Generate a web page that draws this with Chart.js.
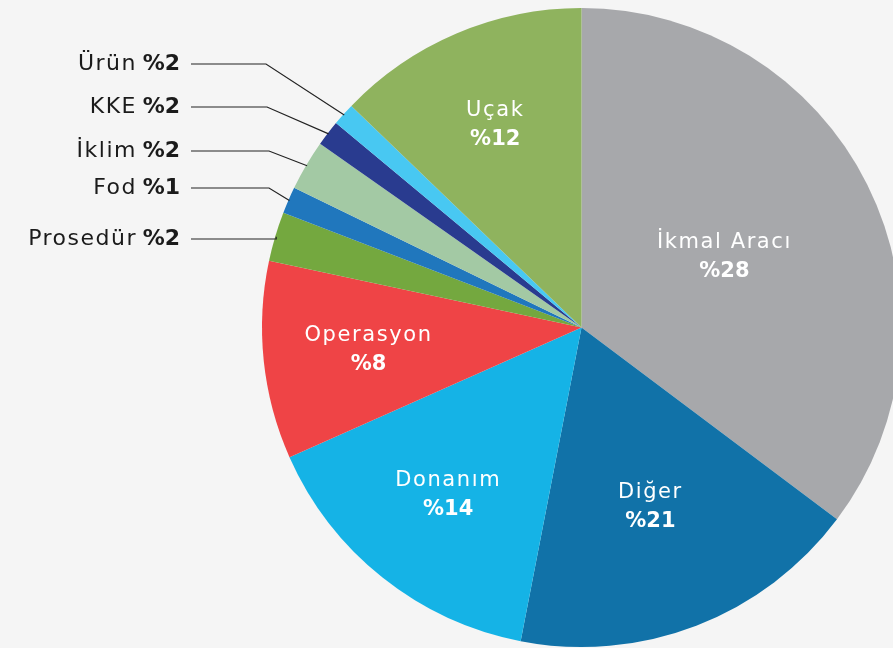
<!DOCTYPE html>
<html>
<head>
<meta charset="utf-8">
<script src="https://cdn.jsdelivr.net/npm/chart.js@4.4.1/dist/chart.umd.min.js"></script>
<style>
  html, body { margin: 0; padding: 0; background: #f5f5f5; overflow: hidden; width: 893px; height: 648px; }
  #wrap { position: absolute; left: 0; top: 0; width: 1000px; height: 648px; }
</style>
</head>
<body>
<div id="wrap"><canvas id="c" width="1000" height="648"></canvas></div>
<script>
// ---- data ----
const categories = ['İkmal Aracı', 'Diğer', 'Donanım', 'Operasyon', 'Prosedür', 'Fod', 'İklim', 'KKE', 'Ürün', 'Uçak'];
const sliceValues = [35.25, 17.8, 15.3, 10.0, 2.5, 1.35, 2.55, 1.3, 1.15, 12.8];
const percentLabels = ['%28', '%21', '%14', '%8', '%2', '%1', '%2', '%2', '%2', '%12'];
const sliceColors = ['#a7a8ab', '#1172a8', '#15b3e6', '#ef4446', '#74a83f', '#2077bd', '#a3c9a4', '#293b8f', '#48c8f2', '#8fb35e'];

// ---- label layout ----
const insideFrac = { 0: 0.5, 1: 0.6, 2: 0.67, 3: 0.67, 9: 0.69 };
const outsideRowY = { 8: 64, 7: 107, 6: 151, 5: 188, 4: 239 };
const outsideElbowX = { 8: 266, 7: 267, 6: 269, 5: 269, 4: null };
const FONT = '"DejaVu Sans", sans-serif';

const labelPlugin = {
  id: 'sliceLabels',
  afterDatasetsDraw(chart) {
    const ctx = chart.ctx;
    const meta = chart.getDatasetMeta(0);
    ctx.save();
    meta.data.forEach((arc, i) => {
      const p = arc.getProps(['x', 'y', 'startAngle', 'endAngle', 'outerRadius'], true);
      const mid = (p.startAngle + p.endAngle) / 2;
      if (insideFrac[i] !== undefined) {
        const r = p.outerRadius * insideFrac[i];
        const lx = p.x + Math.cos(mid) * r;
        const ly = p.y + Math.sin(mid) * r;
        ctx.fillStyle = '#ffffff';
        ctx.textAlign = 'center';
        ctx.textBaseline = 'middle';
        ctx.letterSpacing = '1.6px';
        ctx.font = '21px ' + FONT;
        ctx.fillText(categories[i], lx, ly - 14);
        ctx.letterSpacing = '0px';
        ctx.font = 'bold 21px ' + FONT;
        ctx.fillText(percentLabels[i], lx, ly + 15);
      } else if (outsideRowY[i] !== undefined) {
        const sx = p.x + Math.cos(mid) * (p.outerRadius - 1);
        const sy = p.y + Math.sin(mid) * (p.outerRadius - 1);
        const rowY = outsideRowY[i];
        const ex = outsideElbowX[i] === null ? sx : outsideElbowX[i];
        ctx.strokeStyle = '#222222';
        ctx.lineWidth = 1.2;
        ctx.beginPath();
        ctx.moveTo(sx, sy);
        ctx.lineTo(ex, rowY);
        ctx.lineTo(191, rowY);
        ctx.stroke();
        ctx.fillStyle = '#1b1b1b';
        ctx.textBaseline = 'middle';
        ctx.textAlign = 'right';
        ctx.letterSpacing = '0px';
        ctx.font = 'bold 22px ' + FONT;
        ctx.fillText(percentLabels[i], 180, rowY);
        ctx.letterSpacing = '1.5px';
        ctx.font = '22px ' + FONT;
        ctx.fillText(categories[i], 137, rowY);
      }
    });
    ctx.restore();
  }
};

new Chart(document.getElementById('c'), {
  type: 'pie',
  data: {
    labels: categories,
    datasets: [{
      data: sliceValues,
      backgroundColor: sliceColors,
      borderWidth: 0
    }]
  },
  options: {
    responsive: false,
    animation: false,
    layout: { padding: { left: 262, right: 99, top: 8, bottom: 1 } },
    plugins: { legend: { display: false }, tooltip: { enabled: false } }
  },
  plugins: [labelPlugin]
});
</script>
</body>
</html>
